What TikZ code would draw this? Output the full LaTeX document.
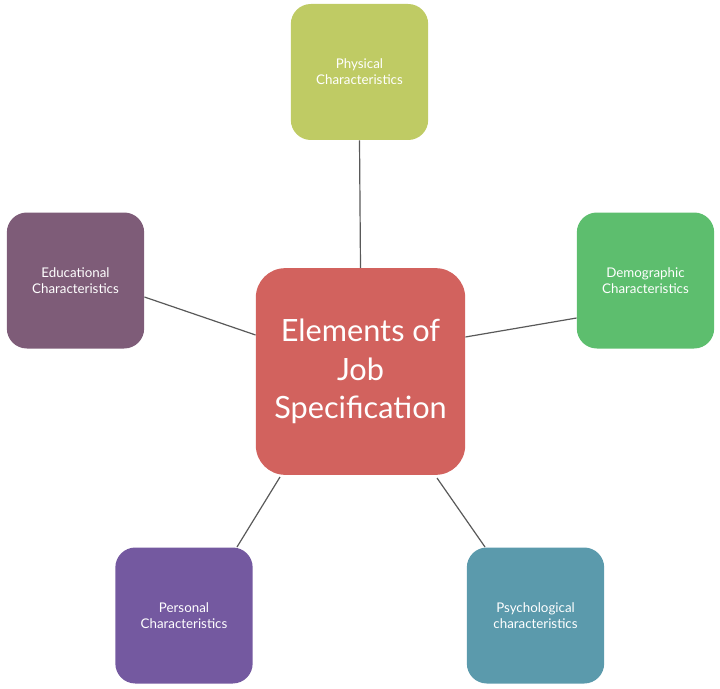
\documentclass[tikz,border=0pt]{standalone}
\usepackage{fontspec}
\setmainfont{Lato}
\begin{document}
\begin{tikzpicture}[x=0.75pt,y=-0.75pt,
  box/.style={draw=none,rounded corners=15pt,minimum width=103pt,minimum height=102pt,
    text=white,align=center,font=\fontsize{10}{12}\selectfont,inner sep=2pt},
  link/.style={draw=gray!70!black,line width=0.9pt}]
\useasboundingbox (0,0) rectangle (720,688);
\definecolor{cred}{HTML}{D2625E}
\definecolor{cphys}{HTML}{BFCB64}
\definecolor{cdemo}{HTML}{5DBE6E}
\definecolor{cedu}{HTML}{7E5C78}
\definecolor{cpers}{HTML}{7459A0}
\definecolor{cpsy}{HTML}{5B9AAC}
\node[box,fill=cred,minimum width=157pt,minimum height=155pt,rounded corners=22pt,
  font=\fontsize{23}{29}\selectfont] (c) at (360.5,371.5) {Elements of\\Job\\Specification};
\node[box,fill=cphys] (p) at (359.5,72) {Physical\\Characteristics};
\node[box,fill=cdemo] (d) at (645.5,280.5) {Demographic\\Characteristics};
\node[box,fill=cedu] (e) at (75.5,280.5) {Educational\\Characteristics};
\node[box,fill=cpers] (r) at (184,615.5) {Personal\\Characteristics};
\node[box,fill=cpsy] (s) at (535.5,615.5) {Psychological\\characteristics};
\draw[link] (p.south) -- (c.north);
\draw[link] (e.east|-0,297) -- (c.west|-0,335);
\draw[link] (d.west|-0,318) -- (c.east|-0,337);
\coordinate (r1) at (237,547); \coordinate (c1) at (280,477);
\coordinate (s1) at (485,547); \coordinate (c2) at (437,478);
\draw[link] (r1) -- (c1);
\draw[link] (s1) -- (c2);
\end{tikzpicture}
\end{document}
